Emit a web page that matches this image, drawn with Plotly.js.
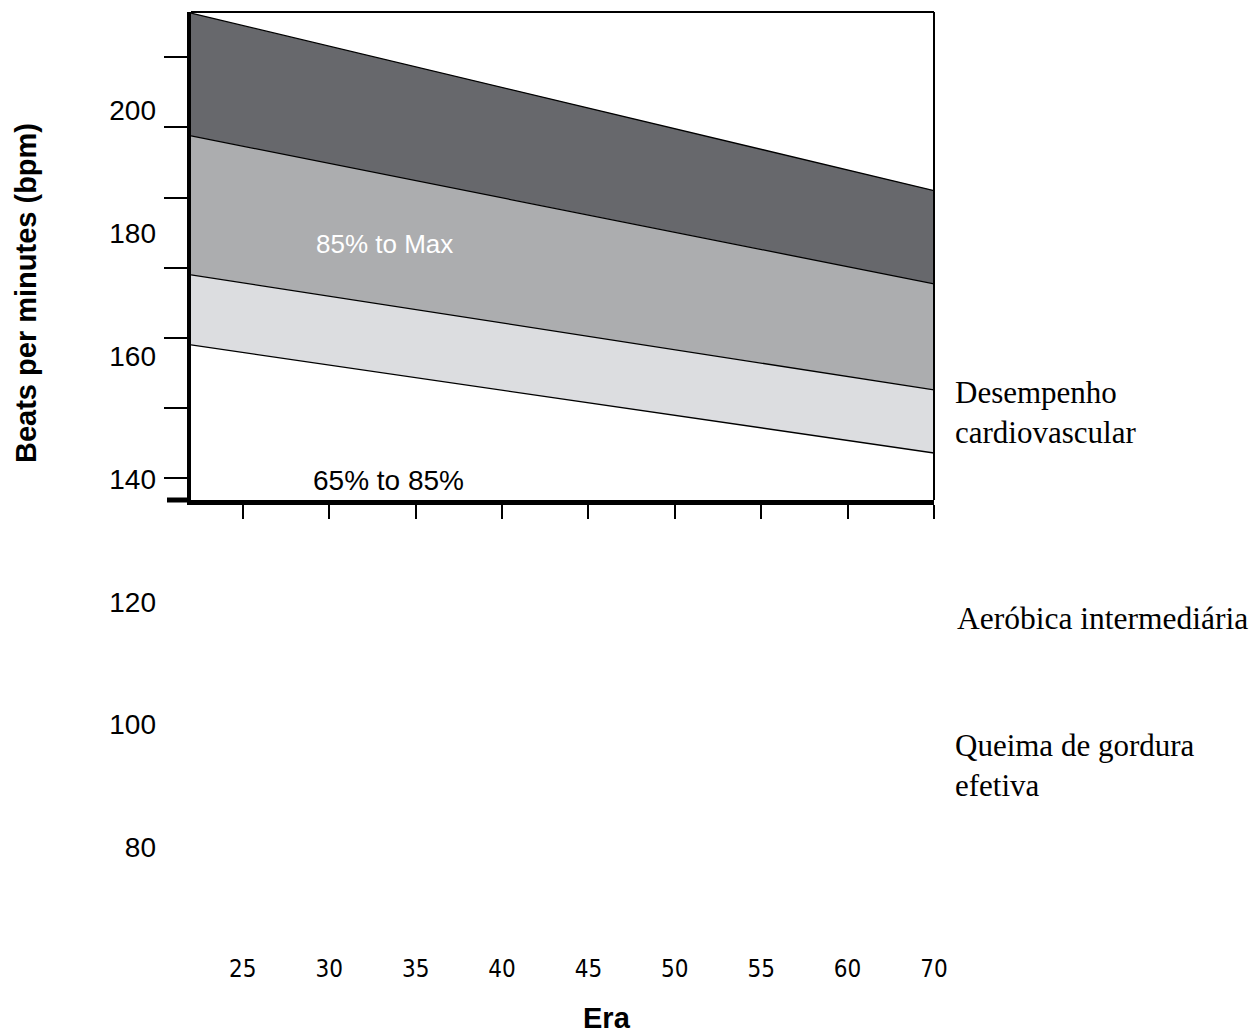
<!DOCTYPE html>
<html>
<head>
<meta charset="utf-8">
<script src="https://cdn.plot.ly/plotly-3.0.1.min.js"></script>
<style>html,body{margin:0;padding:0;background:#fff;}#chart{width:1254px;height:1036px;}</style>
</head>
<body>
<div id="chart"></div>
<script>
// ---- data ----
const ages = [27, 70];
const lineMax   = [206.3, 181.0];   // top boundary
const line85    = [188.8, 167.7];
const line65    = [169.0, 152.6];
const lineLow   = [159.0, 143.6];

const xTickVals = [30, 35, 40, 45, 50, 55, 60, 65, 70];
const xTickText = ['25', '30', '35', '40', '45', '50', '55', '60', '70'];
const yTickVals = [140, 150, 160, 170, 180, 190, 200];
const yLabelVals = [80, 100, 120, 140, 160, 180, 200];

const zoneNames = ['Desempenho<br>cardiovascular', 'Aeróbica intermediária', 'Queima de gordura<br>efetiva'];
const bandLabels = ['85% to Max', '65% to 85%'];

const sans = '"Liberation Sans", Arial, Helvetica, sans-serif';
const narrow = '"Liberation Sans Narrow", "Arial Narrow", "DejaVu Sans Condensed", "Liberation Sans", sans-serif';
const serif = '"Liberation Serif", "Times New Roman", Times, serif';

const lineStyle = {color: '#000', width: 1.3};
const traces = [
  {x: ages, y: lineLow, mode: 'lines', line: lineStyle, xaxis: 'x', yaxis: 'y', hoverinfo: 'skip'},
  {x: ages, y: line65, mode: 'lines', line: lineStyle, fill: 'tonexty', fillcolor: '#dcdde0', xaxis: 'x', yaxis: 'y', hoverinfo: 'skip'},
  {x: ages, y: line85, mode: 'lines', line: lineStyle, fill: 'tonexty', fillcolor: '#acadaf', xaxis: 'x', yaxis: 'y', hoverinfo: 'skip'},
  {x: ages, y: lineMax, mode: 'lines', line: lineStyle, fill: 'tonexty', fillcolor: '#67686c', xaxis: 'x', yaxis: 'y', hoverinfo: 'skip'},
  {x: [], y: [], mode: 'markers', xaxis: 'x2', yaxis: 'y2', hoverinfo: 'skip'}
];

const W = 743, H = 938;
const px = p => (p - 191) / W;
const py = p => (950 - p) / H;

const layout = {
  width: 1254, height: 1036,
  margin: {l: 191, r: 320, t: 12, b: 86, pad: 0},
  paper_bgcolor: '#ffffff',
  plot_bgcolor: 'rgba(0,0,0,0)',
  showlegend: false,
  xaxis: {
    domain: [0, 1], anchor: 'y', range: [27, 70],
    showgrid: false, zeroline: false,
    showline: true, linecolor: '#000', linewidth: 5,
    ticks: 'outside', tickvals: xTickVals, ticklen: 14, tickwidth: 2, tickcolor: '#000',
    showticklabels: false
  },
  yaxis: {
    domain: [py(500), 1], anchor: 'x', range: [136.9, 206.46],
    showgrid: false, zeroline: false,
    showline: true, linecolor: '#000', linewidth: 4,
    ticks: 'outside', tickvals: yTickVals, ticklen: 23, tickwidth: 2, tickcolor: '#000',
    showticklabels: false
  },
  xaxis2: {
    domain: [0, 1], anchor: 'y2', range: [27, 70],
    showgrid: false, zeroline: false, showline: false, ticks: '',
    tickvals: xTickVals, ticktext: xTickText, ticklabelstandoff: 2,
    tickfont: {family: narrow, size: 24, color: '#000'}
  },
  yaxis2: {
    domain: [0, 1], anchor: 'x2', range: [63.31, 216.04],
    showgrid: false, zeroline: false, showline: false, ticks: '',
    tickvals: yLabelVals, ticklabelstandoff: 34,
    tickfont: {family: sans, size: 28, color: '#000'}
  },
  shapes: [
    {type: 'line', xref: 'x domain', yref: 'y domain', x0: 0, x1: 1, y0: 1, y1: 1, line: {color: '#000', width: 2}},
    {type: 'line', xref: 'x domain', yref: 'y domain', x0: 1, x1: 1, y0: 0, y1: 1, line: {color: '#000', width: 2}},
    {type: 'line', xref: 'paper', yref: 'y domain', x0: -24 / W, x1: 0, y0: 0, y1: 0, line: {color: '#000', width: 5}}
  ],
  annotations: [
    {text: '<b>Beats per minutes (bpm)</b>', textangle: -90, xref: 'paper', yref: 'paper', x: px(25.5), y: py(293.5), xanchor: 'center', yanchor: 'middle', showarrow: false, font: {family: sans, size: 29, color: '#000'}},
    {text: '<b>Era</b>', xref: 'paper', yref: 'paper', x: px(606.5), y: py(1018), xanchor: 'center', yanchor: 'middle', showarrow: false, font: {family: sans, size: 29, color: '#000'}},
    {text: bandLabels[0], xref: 'paper', yref: 'paper', x: px(384), y: py(244), xanchor: 'center', yanchor: 'middle', showarrow: false, font: {family: sans, size: 26, color: '#ffffff'}},
    {text: bandLabels[1], xref: 'paper', yref: 'paper', x: px(388.7), y: py(480), xanchor: 'center', yanchor: 'middle', showarrow: false, font: {family: sans, size: 28, color: '#000'}},
    {text: zoneNames[0], xref: 'paper', yref: 'paper', x: px(953), y: py(412), xanchor: 'left', yanchor: 'middle', align: 'left', showarrow: false, font: {family: serif, size: 31, color: '#000'}},
    {text: zoneNames[1], xref: 'paper', yref: 'paper', x: px(955), y: py(618), xanchor: 'left', yanchor: 'middle', align: 'left', showarrow: false, font: {family: serif, size: 31.5, color: '#000'}},
    {text: zoneNames[2], xref: 'paper', yref: 'paper', x: px(953), y: py(765), xanchor: 'left', yanchor: 'middle', align: 'left', showarrow: false, font: {family: serif, size: 31, color: '#000'}}
  ]
};

Plotly.newPlot('chart', traces, layout, {displayModeBar: false, staticPlot: true});
</script>
</body>
</html>
